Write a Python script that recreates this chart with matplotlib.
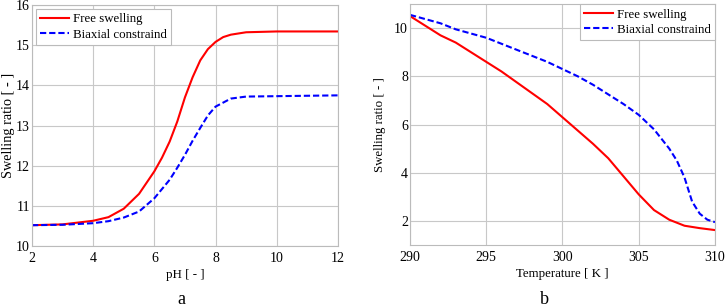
import matplotlib
matplotlib.use("Agg")
import matplotlib.pyplot as plt

plt.rcParams['font.family'] = ['Liberation Serif', 'DejaVu Serif']
plt.rcParams['font.size'] = 9.3

# panel a: swelling ratio vs pH
ph = [2, 3, 4, 4.5, 5, 5.5, 6, 6.25, 6.5, 6.75, 7, 7.25, 7.5, 7.75, 8, 8.25, 8.5, 9, 10, 12]
free_ph = [10.52, 10.54, 10.63, 10.72, 10.93, 11.3, 11.86, 12.2, 12.6, 13.1, 13.7, 14.2, 14.62, 14.9, 15.08, 15.2, 15.26, 15.32, 15.34, 15.34]
ph_b = [2, 3, 4, 4.5, 5, 5.5, 6, 6.5, 6.75, 7, 7.25, 7.5, 7.75, 8, 8.5, 9, 10, 11, 12]
biax_ph = [10.52, 10.53, 10.57, 10.62, 10.71, 10.86, 11.19, 11.65, 11.95, 12.27, 12.62, 12.94, 13.25, 13.47, 13.67, 13.72, 13.73, 13.74, 13.75]

# panel b: swelling ratio vs temperature
temp = [290, 291, 292, 293, 294, 295, 296, 297, 298, 299, 300, 301, 302, 303, 304, 305, 306, 307, 308, 309, 310]
free_t = [10.5, 10.1, 9.7, 9.4, 9.0, 8.6, 8.2, 7.75, 7.3, 6.85, 6.3, 5.75, 5.2, 4.6, 3.85, 3.1, 2.45, 2.05, 1.8, 1.7, 1.62]
temp_b = [290, 292, 293, 295, 297, 299, 300, 301, 302, 303, 304, 305, 306, 307, 307.5, 308, 308.5, 309, 309.5, 310]
biax_t = [10.55, 10.2, 9.95, 9.6, 9.1, 8.6, 8.3, 8.0, 7.65, 7.25, 6.85, 6.4, 5.8, 5.0, 4.5, 3.8, 2.8, 2.3, 2.05, 1.95]

fig = plt.figure(figsize=(7.25, 3.08), dpi=100)
ax1 = fig.add_axes([0.0441, 0.201, 0.422, 0.783])
ax2 = fig.add_axes([0.5655, 0.2045, 0.4207, 0.7825])

dash = (0, (3, 1.4))


def style(ax):
    ax.grid(True, color='#c8c8c8', linewidth=0.8)
    ax.set_axisbelow(True)
    for s in ax.spines.values():
        s.set_color('#bbbbbb')
        s.set_linewidth(0.8)
    ax.tick_params(axis='x', length=0, pad=4, labelsize=10)
    ax.tick_params(axis='y', length=0, pad=1.5, labelsize=10)


def legend(ax, loc, pad):
    leg = ax.legend(loc=loc, fancybox=False, edgecolor='#bbbbbb', framealpha=1,
                    borderaxespad=pad, handlelength=2.2, handletextpad=0.3,
                    borderpad=0.35, labelspacing=0.25)
    leg.get_frame().set_linewidth(0.8)


ax1.plot(ph, free_ph, color='red', lw=1.5, label='Free swelling')
ax1.plot(ph_b, biax_ph, color='blue', lw=1.5, ls=dash, label='Biaxial constraind')
ax1.set_xlim(2, 12)
ax1.set_ylim(10, 16)
ax1.set_xticks([2, 4, 6, 8, 10, 12])
ax1.set_xlabel('pH [ - ]', labelpad=3)
ax1.set_ylabel('Swelling ratio [ - ]', labelpad=1, fontsize=10.3)
style(ax1)
legend(ax1, 'upper left', 0.3)

ax2.plot(temp, free_t, color='red', lw=1.5, label='Free swelling')
ax2.plot(temp_b, biax_t, color='blue', lw=1.5, ls=dash, label='Biaxial constraind')
ax2.set_xlim(290, 310)
ax2.set_ylim(1, 11)
ax2.set_xticks([290, 295, 300, 305, 310])
ax2.set_yticks([2, 4, 6, 8, 10])
ax2.set_xlabel('Temperature [ K ]', labelpad=3)
ax2.set_ylabel('Swelling ratio [ - ]', labelpad=6)
style(ax2)
legend(ax2, 'upper right', 0.0)

fig.text(0.25, 0.012, 'a', ha='center', va='baseline', fontsize=13)
fig.text(0.751, 0.012, 'b', ha='center', va='baseline', fontsize=13)

fig.savefig('out.png', dpi=100)
